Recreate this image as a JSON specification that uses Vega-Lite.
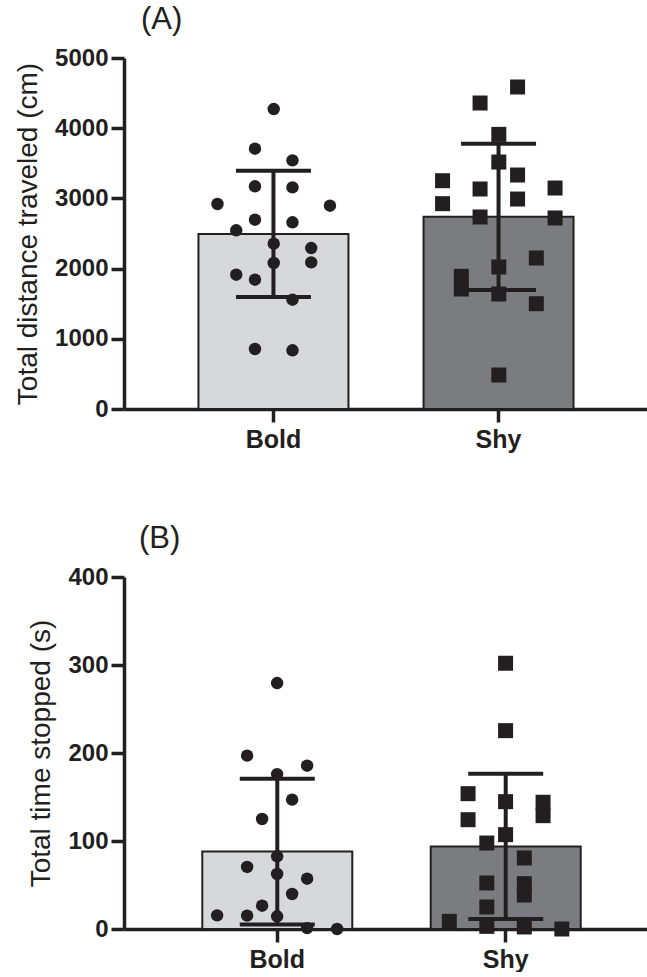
{
  "$schema": "https://vega.github.io/schema/vega-lite/v6.json",
  "background": "white",
  "padding": {"left": 14, "top": 4, "right": 0, "bottom": 0},
  "config": {
    "font": "Liberation Sans",
    "view": {"stroke": null},
    "axis": {
      "domainColor": "#231f20", "domainWidth": 3.5, "tickColor": "#231f20", "tickWidth": 3.5, "tickSize": 13,
      "labelColor": "#231f20", "labelFont": "Liberation Sans", "labelFontWeight": "bold", "labelFontSize": 24,
      "titleColor": "#231f20", "titleFont": "Liberation Sans", "titleFontWeight": "normal", "titleFontSize": 28, "grid": false
    },
    "title": {"fontSize": 31, "fontWeight": "normal", "color": "#231f20", "anchor": "start", "frame": "group", "baseline": "alphabetic", "font": "Liberation Sans"}
  },
  "datasets": {
    "dist": [
      {"group": "Bold", "value": 4273, "jitter": 0},
      {"group": "Bold", "value": 3708, "jitter": -1},
      {"group": "Bold", "value": 3542, "jitter": 1},
      {"group": "Bold", "value": 3172, "jitter": -1},
      {"group": "Bold", "value": 3157, "jitter": 1},
      {"group": "Bold", "value": 2920, "jitter": -3},
      {"group": "Bold", "value": 2896, "jitter": 3},
      {"group": "Bold", "value": 2697, "jitter": -1},
      {"group": "Bold", "value": 2659, "jitter": 1},
      {"group": "Bold", "value": 2545, "jitter": -2},
      {"group": "Bold", "value": 2355, "jitter": 0},
      {"group": "Bold", "value": 2293, "jitter": 2},
      {"group": "Bold", "value": 2080, "jitter": 0},
      {"group": "Bold", "value": 2089, "jitter": 2},
      {"group": "Bold", "value": 1913, "jitter": -2},
      {"group": "Bold", "value": 1842, "jitter": -1},
      {"group": "Bold", "value": 1557, "jitter": 1},
      {"group": "Bold", "value": 855, "jitter": -1},
      {"group": "Bold", "value": 836, "jitter": 1},
      {"group": "Shy", "value": 4587, "jitter": 1},
      {"group": "Shy", "value": 4359, "jitter": -1},
      {"group": "Shy", "value": 3912, "jitter": 0},
      {"group": "Shy", "value": 3518, "jitter": 0},
      {"group": "Shy", "value": 3333, "jitter": 1},
      {"group": "Shy", "value": 3252, "jitter": -3},
      {"group": "Shy", "value": 3134, "jitter": -1},
      {"group": "Shy", "value": 3148, "jitter": 3},
      {"group": "Shy", "value": 2925, "jitter": -3},
      {"group": "Shy", "value": 2991, "jitter": 1},
      {"group": "Shy", "value": 2735, "jitter": -1},
      {"group": "Shy", "value": 2721, "jitter": 3},
      {"group": "Shy", "value": 2151, "jitter": 2},
      {"group": "Shy", "value": 2023, "jitter": 0},
      {"group": "Shy", "value": 1890, "jitter": -2},
      {"group": "Shy", "value": 1709, "jitter": -2},
      {"group": "Shy", "value": 1638, "jitter": 0},
      {"group": "Shy", "value": 1500, "jitter": 2},
      {"group": "Shy", "value": 484, "jitter": 0}
    ],
    "stop": [
      {"group": "Bold", "value": 279.5, "jitter": 0},
      {"group": "Bold", "value": 197, "jitter": -1.6},
      {"group": "Bold", "value": 185.6, "jitter": 1.6},
      {"group": "Bold", "value": 176, "jitter": 0},
      {"group": "Bold", "value": 147, "jitter": 0.8},
      {"group": "Bold", "value": 125, "jitter": -0.8},
      {"group": "Bold", "value": 82.6, "jitter": 0},
      {"group": "Bold", "value": 70.5, "jitter": -1.6},
      {"group": "Bold", "value": 62.5, "jitter": 0},
      {"group": "Bold", "value": 57.2, "jitter": 1.6},
      {"group": "Bold", "value": 39.8, "jitter": 0.8},
      {"group": "Bold", "value": 26.5, "jitter": -0.8},
      {"group": "Bold", "value": 15.5, "jitter": -3.2},
      {"group": "Bold", "value": 15.2, "jitter": -1.6},
      {"group": "Bold", "value": 14.4, "jitter": 0},
      {"group": "Bold", "value": 1, "jitter": 1.6},
      {"group": "Bold", "value": 0, "jitter": 3.2},
      {"group": "Shy", "value": 302, "jitter": 0},
      {"group": "Shy", "value": 225.4, "jitter": 0},
      {"group": "Shy", "value": 153.8, "jitter": -2},
      {"group": "Shy", "value": 144.7, "jitter": 0},
      {"group": "Shy", "value": 144, "jitter": 2},
      {"group": "Shy", "value": 128.8, "jitter": 2},
      {"group": "Shy", "value": 124.2, "jitter": -2},
      {"group": "Shy", "value": 107.2, "jitter": 0},
      {"group": "Shy", "value": 97.7, "jitter": -1},
      {"group": "Shy", "value": 80.7, "jitter": 1},
      {"group": "Shy", "value": 51.5, "jitter": 1},
      {"group": "Shy", "value": 38.6, "jitter": 1},
      {"group": "Shy", "value": 52.3, "jitter": -1},
      {"group": "Shy", "value": 25, "jitter": -1},
      {"group": "Shy", "value": 8.7, "jitter": -3},
      {"group": "Shy", "value": 3, "jitter": -1},
      {"group": "Shy", "value": 2.3, "jitter": 1},
      {"group": "Shy", "value": 0, "jitter": 3}
    ]
  },
  "columns": 1,
  "align": "none",
  "spacing": 71,
  "concat": [
    {
      "width": 524,
      "height": 351,
      "title": {"text": "(A)", "dx": 17, "offset": 10},
      "data": {"name": "dist"},
      "encoding": {
        "x": {"field": "group", "type": "nominal", "scale": {"domain": ["Bold", "Shy"], "paddingInner": 0.336, "paddingOuter": 0.332},
              "axis": {"title": null, "labelAngle": 0, "labelFontSize": 25, "labelPadding": 5}},
        "y": {"field": "value", "type": "quantitative", "scale": {"domain": [0, 5000]},
              "axis": {"title": "Total distance traveled (cm)", "values": [0, 1000, 2000, 3000, 4000, 5000], "format": "d", "labelPadding": 3, "titlePadding": 12}}
      },
      "layer": [
        {
          "transform": [{"aggregate": [{"op": "mean", "field": "value", "as": "value"}], "groupby": ["group"]}],
          "mark": {"type": "bar", "stroke": "#231f20", "strokeWidth": 2, "width": 150},
          "encoding": {"color": {"field": "group", "type": "nominal", "scale": {"domain": ["Bold", "Shy"], "range": ["#d7d8da", "#7b7c80"]}, "legend": null}}
        },
        {
          "mark": {"type": "errorbar", "extent": "stdev", "rule": {"strokeWidth": 4, "color": "#231f20", "opacity": 1}, "ticks": {"size": 75, "thickness": 4, "color": "#231f20", "opacity": 1}},
          "encoding": {}
        },
        {
          "mark": {"type": "point", "filled": true, "opacity": 1, "color": "#231f20"},
          "encoding": {
            "xOffset": {"field": "jitter", "type": "quantitative", "scale": {"domain": [-4, 4], "range": [0, 150]}},
            "shape": {"field": "group", "type": "nominal", "scale": {"domain": ["Bold", "Shy"], "range": ["circle", "square"]}, "legend": null},
            "size": {"field": "group", "type": "nominal", "scale": {"domain": ["Bold", "Shy"], "range": [155, 225]}, "legend": null}
          }
        }
      ]
    },
    {
      "width": 535,
      "height": 352,
      "title": {"text": "(B)", "dx": 15, "offset": 10},
      "data": {"name": "stop"},
      "encoding": {
        "x": {"field": "group", "type": "nominal", "scale": {"domain": ["Bold", "Shy"], "paddingInner": 0.342, "paddingOuter": 0.342},
              "axis": {"title": null, "labelAngle": 0, "labelFontSize": 25, "labelPadding": 5}},
        "y": {"field": "value", "type": "quantitative", "scale": {"domain": [0, 400]},
              "axis": {"title": "Total time stopped (s)", "values": [0, 100, 200, 300, 400], "format": "d", "labelPadding": 3, "titlePadding": 12}}
      },
      "layer": [
        {
          "transform": [{"aggregate": [{"op": "mean", "field": "value", "as": "value"}], "groupby": ["group"]}],
          "mark": {"type": "bar", "stroke": "#231f20", "strokeWidth": 2, "width": 150},
          "encoding": {"color": {"field": "group", "type": "nominal", "scale": {"domain": ["Bold", "Shy"], "range": ["#d7d8da", "#7b7c80"]}, "legend": null}}
        },
        {
          "mark": {"type": "errorbar", "extent": "stdev", "rule": {"strokeWidth": 4, "color": "#231f20", "opacity": 1}, "ticks": {"size": 75, "thickness": 4, "color": "#231f20", "opacity": 1}},
          "encoding": {}
        },
        {
          "mark": {"type": "point", "filled": true, "opacity": 1, "color": "#231f20"},
          "encoding": {
            "xOffset": {"field": "jitter", "type": "quantitative", "scale": {"domain": [-4, 4], "range": [0, 150]}},
            "shape": {"field": "group", "type": "nominal", "scale": {"domain": ["Bold", "Shy"], "range": ["circle", "square"]}, "legend": null},
            "size": {"field": "group", "type": "nominal", "scale": {"domain": ["Bold", "Shy"], "range": [155, 225]}, "legend": null}
          }
        }
      ]
    }
  ]
}
